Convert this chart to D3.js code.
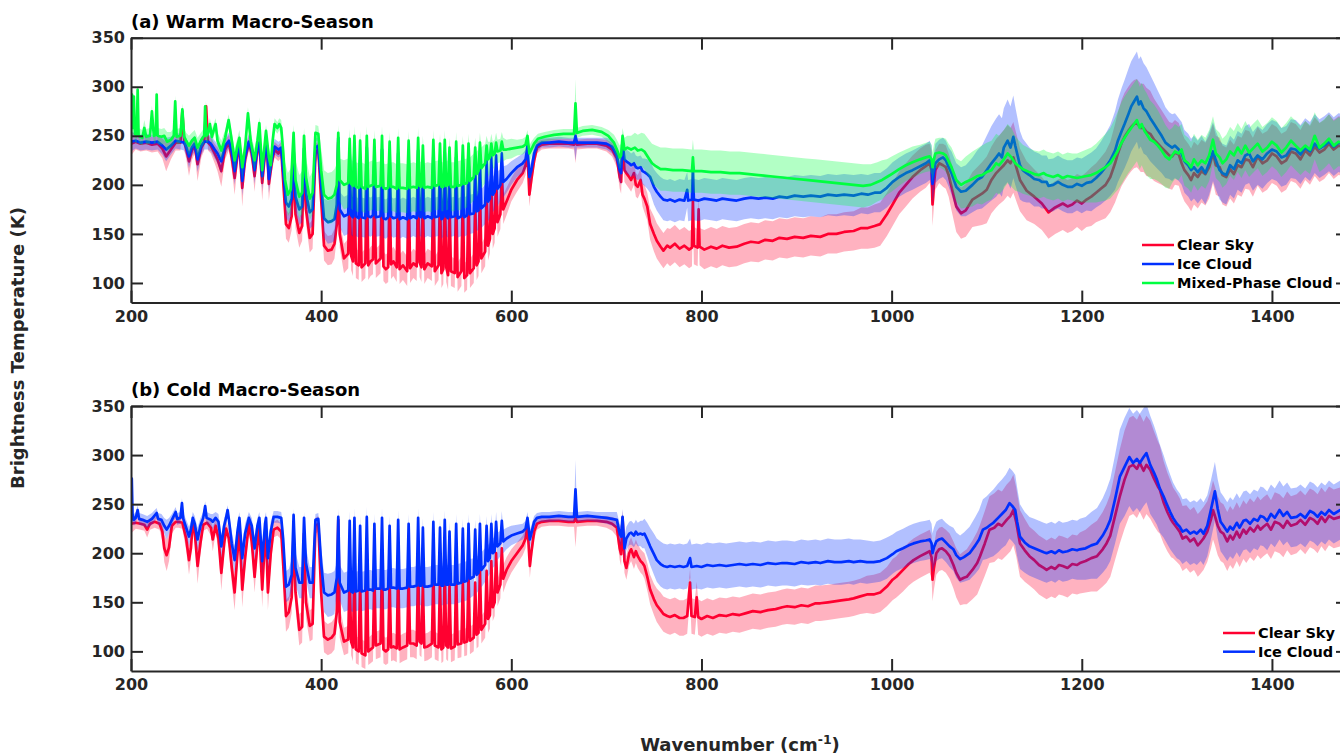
<!DOCTYPE html>
<html>
<head>
<meta charset="utf-8">
<script src="https://cdn.jsdelivr.net/npm/d3@7"></script>
<style>
  body { margin: 0; background: #ffffff; }
  svg { display: block; }
  text { font-family: "DejaVu Sans", "Liberation Sans", sans-serif; font-weight: bold; }
</style>
</head>
<body>
<svg id="chart" width="1340" height="755"></svg>
<script>
// Tick values
const xTicks = [200, 400, 600, 800, 1000, 1200, 1400];
const yTicks = [100, 150, 200, 250, 300, 350];

// Each row: [wavenumber (cm^-1), mean brightness temperature (K), spread (K)]
// Warm macro-season
const clearWarm = [
[200,242,12],[205,244,8],[210,242,8],[216,243,8],[222,241,8],[228,242,8],[233,237,10],[237,229,15],[242,236,10],[247,243,8],[252,243,8],[254,275,4],[256,243,8],[258,237,10],[261,224,15],[264,235,10],[267,240,8],[270,221,17],[274,238,10],[277,243,8],[279,280,4],[281,243,8],[284,240,8],[288,232,10],[291,226,12],[295,214,16],[299,236,10],[303,243,8],[306,228,12],[309,207,17],[312,230,10],[314,240,8],[317,197,19],[320,226,10],[324,243,8],[327,232,10],[330,209,16],[333,236,8],[335,241,8],[338,202,18],[341,232,10],[343,238,8],[345,201,17],[348,222,10],[351,236,8],[355,232,8],
[358,236,8],[360,205,14],[363,160,15],[366,156,15],[369,168,14],[371,226,10],[373,170,14],[377,151,15],[380,158,15],[382,228,10],[384,175,14],[388,146,15],[391,150,15],[394,232,10],[397,236,8],[400,185,14],[403,138,15],[407,133,15],[411,134,15],[414,140,15],[416.5,160,14],[418,244,8],[419.5,150,14],
[424,125,15],[428.5,130,15],[430,200,12],[431.5,128,15],[433.5,122,15],[435,215,12],[436.5,120,15],[439.5,118,15],[441,195,12],[442.5,116,15],[446.5,120,15],[448,225,12],[449.5,118,15],[452,122,15],[454.5,124,15],[456,205,12],[457.5,120,15],[462.5,125,15],[464,220,12],[465.5,117,15],[468,114,15],[470.5,116,15],[472,200,12],[473.5,119,15],[476,122,15],[479.5,116,15],[481,215,12],[482.5,114,15],[486,118,15],[490.5,112,15],[492,205,12],[493.5,115,15],[497,120,15],[500.5,117,15],[502,210,12],[503.5,121,15],[505.5,116,15],[507,190,12],[508.5,114,15],[512,120,15],[516.5,117,15],[518,205,12],[519.5,112,15],[523.5,118,15],[525,195,12],[526.5,110,15],[528.5,114,15],[530,210,12],[531.5,116,15],[533.5,108,15],[535,185,12],[536.5,112,15],[540.5,110,15],[542,200,12],[543.5,106,15],[547.5,112,15],[549,190,12],[550.5,105,15],[553.5,108,15],[555,195,12],[556.5,110,15],[560.5,115,15],[562,185,12],[563.5,118,15],[565.5,122,15],[567,200,12],[568.5,125,15],[572.5,132,15],[574,195,12],[575.5,138,15],[577.5,145,15],[579,205,12],[580.5,150,15],[582.5,156,15],[584,210,12],[585.5,162,15],[588.5,170,15],[590,215,12],[591.5,175,15],[595,183,14],[600,195,12],[606,205,12],[612,212,10],[615,220,10],
[617,232,8],[619,190,12],[621,205,10],[624,225,8],[627,238,6],[632,241,5],[640,242,5],[650,242,5],[660,242,5],[666,241,5],[667.5,247,25],[669,241,5],[680,242,5],[690,242,5],[700,240,6],[706,236,7],[711,227,9],[714,208,12],[715.5,203,12],[717,244,8],[719,215,12],[721,212,12],[724,208,12],[726,205,12],[729,212,12],[731,200,12],[733,198,12],[736,205,12],[738,190,12],[740,186,14],[743,178,14],[746,160,16],[750,150,18],[753,143,18],[757,137,18],[760,133,18],[764,138,18],[767,136,19],[772,140,19],[777,135,19],[782,138,19],[787,134,19],[790,136,19],[791,185,15],[792,138,19],[796,136,19],[797,175,15],[798,137,19],[803,134,20],[810,137,20],[816,135,20],[822,138,20],[829,136,20],[837,137,20],[845,140,20],[852,142,20],[860,141,20],[867,144,20],[875,143,20],[882,146,20],[890,145,20],[898,147,20],[907,146,20],[915,148,20],[925,147,20],[933,150,20],[942,150,20],[950,152,20],[960,153,20],[968,156,21],[975,156,21],[982,158,22],[988,160,22],[995,170,22],[1001,180,22],[1008,192,22],[1015,200,22],[1022,208,22],[1030,215,22],[1036,219,22],[1040,222,20],[1042,215,20],[1043,180,22],[1044.5,200,22],[1046,215,20],[1050,222,20],[1054,220,22],[1057,218,22],[1060,210,22],[1063,198,24],[1068,178,26],[1073,171,26],[1078,174,27],[1085,185,28],[1090,188,30],[1095,191,32],[1100,195,34],[1105,205,34],[1110,212,35],[1113,215,35],[1118,220,36],[1122,225,36],[1125,222,36],[1128,228,36],[1132,215,34],[1135,205,32],[1142,194,30],[1150,188,28],[1158,181,27],[1165,172,27],[1172,177,27],[1180,181,27],[1185,178,27],[1190,180,27],[1195,184,27],[1200,181,28],[1205,185,28],[1210,188,30],[1215,192,30],[1220,196,32],[1225,200,34],[1230,208,36],[1235,222,40],[1238,232,42],[1242,243,44],[1245,249,45],[1249,255,45],[1252,259,45],[1255,262,45],[1258,263,45],[1262,258,45],[1265,258,45],[1268,254,45],[1272,252,44],[1276,246,42],[1280,242,40],[1284,238,38],[1288,234,36],[1292,230,34],[1295,229,34],[1298,233,33],[1302,231,32],[1305,222,32],[1308,215,32],[1312,210,32],[1315,205,32],[1318,212,32],[1322,208,32],[1326,214,32],[1330,211,32],[1334,218,32],[1338,232,30],[1341,220,30],[1345,218,30],[1348,210,30],[1352,208,30],[1356,216,30],[1360,211,30],[1364,220,30],[1368,218,30],[1372,226,30],[1376,225,30],[1380,218,30],[1385,229,30],[1390,222,30],[1395,225,30],[1400,232,30],[1405,229,30],[1410,222,30],[1415,225,30],[1420,234,30],[1425,232,30],[1430,226,30],[1435,235,30],[1440,230,30],[1445,239,30],[1450,233,30],[1455,236,30],[1460,242,30],[1465,236,30],[1470,240,30],[1480,238,30]
];

const iceWarm = [
[200,244,10],[205,245,8],[210,243,8],[216,244,8],[222,243,8],[228,244,8],[233,240,9],[237,236,12],[242,240,9],[247,245,8],[252,244,8],[256,243,8],[258,239,9],[261,229,12],[264,238,9],[267,242,8],[270,226,13],[274,240,9],[277,244,8],[281,244,8],[284,242,8],[288,236,9],[291,232,10],[295,224,13],[299,240,9],[303,245,8],[306,234,10],[309,214,14],[312,234,9],[314,242,8],[317,204,15],[320,230,10],[324,244,8],[327,236,9],[330,215,14],[333,239,8],[335,243,8],[338,209,15],[341,236,9],[343,240,8],[345,206,14],[348,226,10],[351,239,8],[355,236,8],
[358,238,8],[360,215,14],[363,182,16],[366,178,16],[369,186,15],[371,236,10],[373,188,15],[377,175,16],[380,178,16],[382,237,10],[384,192,15],[388,172,17],[391,175,17],[394,238,10],[397,240,8],[400,200,15],[403,166,20],[407,162,22],[411,163,22],[414,165,22],[416.5,180,16],[418,248,8],[419.5,175,18],
[424,168,20],[428.5,170,20],[430,232,12],[431.5,169,20],[433.5,167,20],[435,235,12],[436.5,168,20],[439.5,166,20],[441,225,12],[442.5,167,20],[446.5,166,20],[448,238,12],[449.5,168,20],[452,167,20],[454.5,169,20],[456,228,12],[457.5,167,20],[462.5,168,20],[464,236,12],[465.5,166,20],[468,165,20],[470.5,167,20],[472,225,12],[473.5,168,20],[476,166,20],[479.5,167,20],[481,232,12],[482.5,165,20],[486,167,20],[490.5,165,20],[492,228,12],[493.5,166,20],[497,168,20],[500.5,166,20],[502,235,12],[503.5,168,20],[505.5,167,20],[507,220,12],[508.5,166,20],[512,168,20],[516.5,166,20],[518,230,12],[519.5,167,20],[523.5,168,20],[525,222,12],[526.5,165,20],[528.5,167,20],[530,233,12],[531.5,168,20],[533.5,166,20],[535,218,12],[536.5,167,20],[540.5,168,20],[542,228,12],[543.5,166,20],[547.5,168,20],[549,222,12],[550.5,167,20],[553.5,169,20],[555,226,12],[556.5,170,20],[560.5,171,20],[562,220,12],[563.5,173,20],[565.5,174,20],[567,228,12],[568.5,176,20],[572.5,180,20],[574,225,12],[575.5,183,20],[577.5,186,20],[579,228,12],[580.5,190,18],[582.5,193,18],[584,230,12],[585.5,196,18],[588.5,200,16],[590,232,12],[591.5,203,16],[595,206,14],[600,212,12],[606,218,10],[612,222,10],[615,226,10],
[617,240,8],[619,208,10],[621,215,10],[624,232,8],[627,240,6],[632,243,5],[640,243,5],[650,244,5],[660,243,5],[666,243,5],[667.5,250,25],[669,243,5],[680,243,5],[690,243,5],[700,242,6],[706,239,7],[711,230,9],[714,215,12],[715.5,212,12],[717,244,8],[719,226,12],[721,224,12],[724,222,12],[726,220,12],[729,222,12],[731,218,12],[733,217,12],[736,218,12],[738,214,13],[740,213,14],[743,211,15],[746,208,16],[750,198,18],[753,193,19],[757,188,20],[760,185,21],[764,184,21],[767,185,21],[772,183,21],[777,185,21],[782,184,21],[785,195,18],[786,184,21],[790,185,21],[791,218,15],[792,185,21],[797,184,21],[803,186,21],[810,185,21],[816,184,21],[822,186,21],[829,185,21],[837,184,21],[845,186,21],[852,187,21],[860,186,21],[867,187,21],[875,186,21],[882,188,21],[890,187,21],[898,189,21],[907,188,21],[915,189,21],[925,188,21],[933,190,21],[942,189,21],[950,190,21],[960,189,21],[968,191,20],[975,190,20],[982,192,20],[988,192,20],[995,197,20],[1001,203,20],[1008,208,20],[1015,212,20],[1022,215,20],[1030,219,20],[1036,222,20],[1040,225,20],[1042,220,20],[1043,201,20],[1044.5,212,20],[1046,222,20],[1050,226,20],[1054,228,20],[1057,225,20],[1060,218,20],[1063,212,22],[1068,198,24],[1073,193,25],[1078,194,26],[1085,200,28],[1090,205,30],[1095,208,32],[1100,215,35],[1105,222,38],[1110,228,40],[1113,232,40],[1116,228,40],[1118,238,40],[1122,245,42],[1125,238,42],[1128,249,42],[1130,240,40],[1132,232,38],[1135,220,35],[1138,215,32],[1142,212,30],[1145,210,28],[1150,206,28],[1155,205,27],[1158,203,27],[1163,203,27],[1165,199,27],[1170,200,27],[1175,203,27],[1180,200,27],[1185,198,27],[1190,198,27],[1195,201,27],[1200,199,28],[1205,202,28],[1210,203,30],[1215,207,30],[1220,212,32],[1225,218,34],[1230,225,36],[1235,235,40],[1238,245,42],[1242,255,44],[1245,262,45],[1249,272,46],[1252,280,46],[1255,285,46],[1258,290,46],[1260,282,46],[1262,285,46],[1265,278,46],[1268,275,45],[1272,268,44],[1276,262,42],[1280,256,40],[1284,250,38],[1288,243,36],[1292,240,34],[1295,238,34],[1298,240,33],[1302,236,32],[1305,232,32],[1308,224,32],[1312,220,32],[1315,215,32],[1318,218,32],[1322,213,32],[1326,218,32],[1330,212,32],[1334,222,32],[1338,234,30],[1341,225,30],[1345,215,30],[1348,212,30],[1352,210,30],[1356,220,30],[1360,216,30],[1364,225,30],[1368,222,30],[1372,230,30],[1376,232,30],[1380,224,30],[1385,230,30],[1390,226,30],[1395,232,30],[1400,236,30],[1405,234,30],[1410,228,30],[1415,230,30],[1420,237,30],[1425,236,30],[1430,231,30],[1435,238,30],[1440,234,30],[1445,242,30],[1450,237,30],[1455,240,30],[1460,244,30],[1465,239,30],[1470,243,30],[1480,241,30]
];

const mixedWarm = [
[200,250,10],[201,292,8],[202,258,8],[203,290,8],[204,252,8],[206,250,8],[207,297,6],[208,250,8],[212,248,8],[214,258,8],[216,249,8],[220,250,8],[222,275,6],[224,250,8],[226,251,8],[227,292,6],[228,250,8],[232,249,8],[235,250,8],[238,244,10],[242,246,8],[245,250,8],[246.5,285,6],[248,249,8],[252,250,8],[254,277,6],[256,249,8],[258,245,8],[261,240,10],[264,245,8],[267,248,8],[270,238,10],[274,246,8],[277,250,8],[278,280,6],[279,250,8],[281,252,8],[283,262,6],[285,249,8],[289,262,6],[291,245,8],[295,235,10],[299,248,8],[302.7,266,6],[306,245,8],[309,225,12],[312,240,8],[314,248,8],[317,218,12],[320,238,8],[323,273,6],[326,244,8],[330,225,12],[333,245,8],[335,263,6],[338,215,12],[341,245,8],[342,255,6],[345,228,10],[347,220,10],[349,245,8],[351,262,6],[354,258,6],[356,262,6],
[358,258,8],[360,235,12],[362,205,18],[365,190,22],[368,195,22],[371,253,8],[373,205,20],[377,188,22],[380,192,22],[382,250,8],[384,208,20],[388,186,22],[391,192,22],[394,253,8],[397,252,8],[400,215,22],[403,190,25],[407,186,26],[411,187,26],[414,190,26],[416.5,200,22],[418,253,8],[419.5,205,22],
[424,200,25],[428.5,202,25],[430,247,10],[431.5,201,25],[433.5,199,25],[435,250,10],[436.5,198,25],[439.5,197,25],[441,245,10],[442.5,198,25],[446.5,196,25],[448,250,10],[449.5,198,25],[452,199,25],[454.5,200,25],[456,246,10],[457.5,198,25],[462.5,199,25],[464,250,10],[465.5,197,25],[468,196,25],[470.5,197,25],[472,244,10],[473.5,198,25],[476,198,25],[479.5,196,25],[481,248,10],[482.5,197,25],[486,197,25],[490.5,196,25],[492,245,10],[493.5,197,25],[497,198,25],[500.5,197,25],[502,248,10],[503.5,199,25],[505.5,198,25],[507,240,10],[508.5,197,25],[512,198,25],[516.5,197,25],[518,246,10],[519.5,199,25],[523.5,200,25],[525,242,10],[526.5,198,25],[528.5,198,25],[530,246,10],[531.5,199,25],[533.5,200,25],[535,238,10],[536.5,198,25],[540.5,198,25],[542,244,10],[543.5,199,25],[547.5,200,25],[549,240,10],[550.5,201,25],[553.5,202,25],[555,242,10],[556.5,204,24],[560.5,208,24],[562,238,10],[563.5,211,23],[565.5,214,22],[567,243,10],[568.5,217,21],[572.5,222,20],[574,240,10],[575.5,226,18],[577.5,228,16],[579,242,10],[580.5,230,14],[582.5,232,14],[584,243,10],[585.5,234,12],[588.5,235,12],[590,244,10],[591.5,236,12],[595,236,10],[600,237,10],[606,238,8],[612,239,8],[615,241,8],
[617,250,6],[619,232,8],[621,236,8],[624,242,6],[628,247,5],[635,249,5],[645,251,5],[655,252,5],[662,252,5],[666,252,5],[667.5,283,25],[669,253,5],[675,255,5],[685,256,5],[695,254,5],[702,250,6],[708,243,8],[711,236,10],[714,228,12],[715.5,230,12],[717,250,8],[719,236,12],[722,238,12],[726,236,14],[730,238,15],[733,235,16],[737,236,17],[740,234,18],[744,228,19],[748,222,20],[752,219,21],[757,216,22],[762,216,22],[770,215,22],[780,215,22],[790,214,22],[791,228,18],[792,214,22],[800,214,22],[810,213,22],[820,213,22],[830,212,22],[840,212,22],[850,211,22],[860,210,22],[870,209,22],[880,208,22],[890,207,22],[900,206,22],[910,205,22],[920,204,22],[930,203,22],[940,202,22],[950,201,22],[960,200,22],[970,199,22],[978,200,21],[985,203,20],[990,205,20],[995,208,18],[1000,211,18],[1008,216,17],[1015,220,16],[1022,223,16],[1030,226,15],[1036,228,15],[1040,229,15],[1042,226,15],[1043,218,15],[1044.5,226,15],[1046,232,15],[1050,233,15],[1054,232,16],[1057,230,17],[1060,224,18],[1063,218,20],[1068,205,22],[1073,200,24],[1078,203,26],[1085,206,28],[1090,209,28],[1095,210,30],[1100,213,30],[1105,215,30],[1110,222,30],[1113,220,30],[1118,226,30],[1122,232,30],[1126,228,30],[1130,222,28],[1134,219,26],[1138,216,25],[1145,213,24],[1150,211,24],[1155,210,24],[1160,212,24],[1163,210,24],[1170,208,24],[1175,210,24],[1180,207,24],[1185,209,24],[1190,208,24],[1195,207,25],[1200,208,26],[1205,209,27],[1210,210,28],[1215,212,30],[1220,215,32],[1225,218,34],[1230,222,36],[1235,230,38],[1238,235,40],[1242,243,42],[1245,248,42],[1249,254,42],[1252,258,42],[1255,262,42],[1258,266,42],[1261,258,42],[1263,262,42],[1266,255,42],[1268,252,42],[1272,246,40],[1276,244,38],[1280,240,36],[1284,235,34],[1288,229,32],[1292,226,30],[1295,230,28],[1298,234,28],[1302,232,27],[1305,236,26],[1308,225,26],[1312,222,26],[1315,218,26],[1318,226,26],[1322,220,26],[1326,225,26],[1330,222,26],[1334,230,26],[1338,246,24],[1341,232,25],[1345,228,25],[1348,222,25],[1352,226,25],[1356,234,25],[1360,230,25],[1364,238,25],[1368,232,25],[1372,240,25],[1376,233,25],[1380,237,25],[1385,242,25],[1390,234,25],[1395,238,25],[1400,244,25],[1405,240,25],[1410,233,25],[1415,238,25],[1420,245,25],[1425,240,25],[1430,235,25],[1435,240,25],[1440,236,25],[1445,250,24],[1450,238,25],[1455,242,25],[1460,247,25],[1465,240,25],[1470,244,25],[1480,242,25]
];

// Cold macro-season
const clearCold = [
[200,230,10],[205,231,6],[210,230,6],[214,229,6],[217,224,8],[220,230,6],[225,232,6],[230,230,6],[233,222,10],[235,205,14],[237.5,198,16],[240,206,14],[243,228,8],[247,232,6],[250,232,6],[254,231,6],[258,215,12],[261,193,15],[263,205,12],[265,231,6],[267,222,10],[270,187,18],[273,210,12],[276,229,6],[280,231,6],[284,226,8],[286,214,12],[289,228,8],[292,215,10],[295,180,18],[298,210,12],[300,225,8],[303,215,10],[306,185,16],[309,160,18],[312,200,12],[314,226,8],[317,163,18],[320,195,12],[324,230,8],[327,212,12],[330,176,16],[333,210,10],[335,226,8],[338,163,18],[341,215,10],[342,222,8],[344,160,18],[347,200,12],[350,224,8],[354,226,8],
[358,222,8],[360,190,14],[363,136,16],[366,140,16],[369,155,16],[371,222,8],[373,160,16],[377,122,16],[380,125,16],[382,220,8],[384,150,16],[388,126,16],[391,128,16],[394,228,8],[397,230,8],[400,160,16],[403,115,16],[407,112,16],[411,114,16],[414,118,16],[416.5,140,14],[418,234,8],[419.5,130,16],
[424,110,14],[428.5,112,14],[430,185,12],[431.5,110,14],[433.5,104,14],[435,195,12],[436.5,102,14],[439.5,100,14],[441,175,12],[442.5,98,14],[446.5,96,14],[448,200,12],[449.5,100,14],[452,102,14],[454.5,104,14],[456,180,12],[457.5,106,14],[462.5,108,14],[464,195,12],[465.5,102,14],[468,100,14],[470.5,102,14],[472,175,12],[473.5,104,14],[476,105,14],[479.5,103,14],[481,190,12],[482.5,102,14],[486,104,14],[490.5,106,14],[492,180,12],[493.5,108,14],[497,108,14],[500.5,106,14],[502,192,12],[503.5,110,14],[505.5,108,14],[507,170,12],[508.5,104,14],[512,105,14],[516.5,108,14],[518,185,12],[519.5,106,14],[523.5,104,14],[525,175,12],[526.5,102,14],[528.5,104,14],[530,190,12],[531.5,106,14],[533.5,104,14],[535,168,12],[536.5,103,14],[540.5,105,14],[542,182,12],[543.5,107,14],[547.5,108,14],[549,172,12],[550.5,109,14],[553.5,110,14],[555,180,12],[556.5,111,14],[560.5,114,14],[562,170,12],[563.5,117,14],[565.5,119,14],[567,185,12],[568.5,122,14],[572.5,128,14],[574,182,12],[575.5,133,14],[577.5,137,14],[579,192,12],[580.5,145,14],[582.5,150,14],[584,200,12],[585.5,160,14],[588.5,168,14],[590,205,12],[591.5,174,14],[595,183,13],[600,192,12],[606,200,11],[612,208,10],[615,215,10],
[617,228,8],[619.5,187,12],[621,200,10],[624,222,8],[627,230,6],[632,232,5],[640,233,5],[650,233,5],[660,232,5],[666,232,5],[667.5,236,30],[669,232,5],[680,233,5],[690,233,5],[700,232,6],[706,230,7],[711,226,9],[714,205,12],[715.5,199,12],[717,236,8],[719,192,12],[721,185,12],[724,200,12],[726,204,12],[729,196,12],[731,202,12],[733,197,12],[736,192,12],[738,190,12],[740,187,13],[743,176,14],[746,163,15],[750,153,16],[753,147,17],[757,142,18],[760,138,18],[764,136,18],[767,135,18],[772,137,18],[777,134,18],[781,134,18],[785,136,18],[788,170,14],[789.5,136,18],[793,135,18],[795,155,16],[796.5,135,18],[800,133,18],[806,136,18],[812,134,18],[819,137,18],[826,136,18],[833,138,18],[840,137,18],[847,139,18],[854,141,18],[862,140,18],[870,142,18],[878,143,18],[885,145,18],[890,146,18],[898,145,18],[905,147,18],[912,146,18],[920,149,18],[925,149,18],[933,150,18],[940,151,18],[947,152,18],[955,153,18],[960,154,18],[967,156,18],[974,158,19],[981,158,20],[988,160,20],[995,166,20],[1001,173,21],[1005,176,21],[1012,183,22],[1018,189,22],[1023,193,22],[1030,197,22],[1036,200,22],[1040,202,22],[1042,196,22],[1043,173,22],[1044.5,185,22],[1047,200,22],[1050,204,22],[1053,205,22],[1057,202,22],[1061,197,23],[1065,188,24],[1068,180,25],[1072,173,26],[1076,175,27],[1079,176,28],[1085,183,30],[1090,190,32],[1093,197,32],[1098,210,33],[1103,224,34],[1108,226,35],[1112,230,35],[1116,228,35],[1121,234,36],[1125,238,36],[1128,244,36],[1131,232,35],[1135,210,34],[1140,203,32],[1145,197,30],[1150,193,30],[1155,188,30],[1160,185,30],[1163,183,30],[1168,186,30],[1172,184,30],[1176,188,30],[1180,187,30],[1185,185,30],[1190,189,30],[1195,188,30],[1198,190,31],[1204,192,32],[1210,195,34],[1216,197,36],[1222,204,38],[1226,210,40],[1230,218,42],[1235,238,45],[1240,258,48],[1245,275,50],[1250,288,50],[1254,290,50],[1258,286,50],[1261,292,50],[1265,284,50],[1268,290,50],[1272,285,50],[1276,276,48],[1280,268,46],[1282,265,45],[1286,252,42],[1290,242,40],[1294,234,38],[1296,231,36],[1300,226,35],[1303,222,34],[1306,215,33],[1310,217,32],[1314,212,32],[1318,215,32],[1322,208,32],[1324,210,32],[1328,215,32],[1332,222,31],[1336,235,30],[1338,244,30],[1340,238,30],[1343,228,30],[1346,222,30],[1349,220,30],[1353,212,30],[1356,218,30],[1359,214,30],[1363,222,30],[1366,216,30],[1370,224,30],[1373,220,30],[1377,226,30],[1381,222,30],[1385,228,30],[1388,224,30],[1391,227,30],[1395,230,30],[1399,224,30],[1403,232,30],[1408,230,30],[1412,226,30],[1416,233,30],[1420,228,30],[1426,230,30],[1430,234,30],[1435,229,30],[1440,236,30],[1444,234,30],[1448,230,30],[1452,237,30],[1456,232,30],[1460,238,30],[1465,235,30],[1472,237,30],[1480,236,30]
];

const iceCold = [
[200,232,10],[200.8,276,8],[201.6,240,8],[203,234,6],[205,236,6],[207,244,5],[208.5,235,6],[212,234,6],[217,232,6],[222,235,6],[227,241,5],[228.5,235,6],[232,234,6],[235,228,8],[237.5,224,10],[240,228,8],[243,234,6],[247,242,5],[248.5,235,6],[252,236,6],[253.6,251,5],[255,235,6],[258,226,8],[261,217,10],[263,224,8],[265,236,6],[267,230,8],[270,214,12],[273,228,8],[276,236,6],[278,248,5],[279.5,236,6],[284,234,6],[286,232,8],[289,236,6],[292,232,8],[295,207,12],[298,228,8],[300,236,6],[301.6,244,5],[303,234,6],[306,210,12],[309,193,14],[312,222,10],[314,236,6],[317,195,14],[320,220,10],[324,236,6],[327,228,8],[330,205,12],[333,228,8],[335,236,6],[338,192,14],[341,230,8],[342,236,6],[344,195,14],[347,222,10],[350,237,6],[354,237,6],
[358,236,6],[360,215,12],[363,166,16],[366,168,16],[369,178,16],[371,239,6],[373,185,16],[377,170,16],[380,170,16],[382,236,6],[384,190,16],[388,170,16],[391,170,16],[394,234,6],[397,235,6],[400,190,16],[403,160,20],[407,157,22],[411,158,22],[414,160,22],[416.5,175,16],[418,237,8],[419.5,170,18],
[424,160,20],[428.5,162,20],[430,233,10],[431.5,161,20],[433.5,160,20],[435,236,10],[436.5,161,20],[439.5,162,20],[441,228,10],[442.5,161,20],[446.5,162,20],[448,237,10],[449.5,163,20],[452,163,20],[454.5,162,20],[456,230,10],[457.5,164,20],[462.5,164,20],[464,236,10],[465.5,163,20],[468,163,20],[470.5,164,20],[472,228,10],[473.5,165,20],[476,165,20],[479.5,164,20],[481,234,10],[482.5,164,20],[486,164,20],[490.5,165,20],[492,230,10],[493.5,166,20],[497,166,20],[500.5,167,20],[502,236,10],[503.5,167,20],[505.5,167,20],[507,226,10],[508.5,166,20],[512,166,20],[516.5,167,20],[518,232,10],[519.5,168,20],[523.5,168,20],[525,226,10],[526.5,167,20],[528.5,167,20],[530,234,10],[531.5,168,20],[533.5,168,20],[535,222,10],[536.5,168,20],[540.5,168,20],[542,230,10],[543.5,169,20],[547.5,170,20],[549,225,10],[550.5,171,20],[553.5,172,20],[555,230,10],[556.5,174,20],[560.5,176,19],[562,224,10],[563.5,178,19],[565.5,180,18],[567,230,10],[568.5,183,18],[572.5,188,17],[574,228,10],[575.5,192,16],[577.5,195,16],[579,230,10],[580.5,200,15],[582.5,202,15],[584,232,10],[585.5,207,14],[588.5,210,13],[590,233,10],[591.5,212,12],[595,215,11],[600,218,10],[606,220,9],[612,222,8],[615,225,8],
[617,236,6],[619.5,214,10],[621,220,8],[624,232,6],[627,236,5],[632,237,5],[640,237,5],[650,238,5],[660,237,5],[666,237,5],[667.5,265,30],[669,237,5],[680,238,5],[690,237,5],[700,236,6],[706,235,7],[711,234,8],[714,220,10],[715.5,217,10],[717,237,8],[719,205,12],[721,215,12],[724,220,12],[726,221,12],[729,218,12],[731,222,12],[733,219,12],[736,220,13],[738,219,14],[740,220,15],[743,214,17],[746,207,19],[750,199,21],[753,193,22],[757,189,23],[760,187,23],[764,186,23],[767,187,23],[772,186,23],[777,187,23],[781,186,23],[785,187,23],[788,195,20],[789.5,186,23],[795,187,23],[800,186,23],[806,188,23],[812,187,23],[819,188,23],[826,187,23],[833,188,23],[840,189,23],[847,188,23],[854,189,23],[862,188,23],[870,190,23],[878,189,23],[885,190,23],[890,190,23],[898,189,23],[905,191,23],[912,190,23],[920,191,23],[925,190,23],[933,192,23],[940,191,23],[947,191,23],[955,192,23],[960,191,23],[967,192,22],[974,191,22],[981,191,21],[988,192,21],[995,195,21],[1001,199,20],[1005,202,20],[1012,205,20],[1018,208,20],[1023,210,20],[1030,212,20],[1036,213,20],[1040,214,20],[1042,210,20],[1043,200,20],[1044.5,206,20],[1047,212,20],[1050,214,20],[1053,215,20],[1057,211,20],[1061,207,21],[1065,204,22],[1068,198,23],[1072,194,24],[1076,196,25],[1082,200,27],[1088,208,29],[1092,214,30],[1096,224,31],[1100,226,32],[1104,229,33],[1107,231,34],[1112,236,35],[1116,240,35],[1120,244,36],[1124,251,36],[1127,248,36],[1130,244,36],[1132,232,35],[1135,217,33],[1140,211,31],[1145,207,30],[1150,205,30],[1155,203,30],[1160,201,30],[1163,200,30],[1168,202,30],[1172,200,30],[1176,203,30],[1180,201,30],[1185,202,30],[1190,204,30],[1195,203,30],[1198,204,31],[1204,205,32],[1210,208,34],[1216,210,36],[1222,218,38],[1226,225,40],[1230,234,42],[1235,255,45],[1240,278,48],[1245,288,50],[1250,298,50],[1254,292,50],[1258,296,50],[1261,292,50],[1265,298,50],[1268,302,50],[1272,290,50],[1276,282,48],[1279,275,46],[1282,266,45],[1286,258,42],[1289,251,40],[1293,242,38],[1296,236,36],[1300,230,35],[1303,227,34],[1306,222,33],[1310,224,32],[1314,220,32],[1318,222,32],[1321,220,32],[1325,224,32],[1328,220,32],[1332,228,31],[1336,245,30],[1340,263,30],[1343,245,30],[1346,232,30],[1349,228,30],[1353,222,30],[1356,227,30],[1359,224,30],[1363,231,30],[1366,226,30],[1370,233,30],[1373,234,30],[1377,230,30],[1381,235,30],[1385,233,30],[1388,238,30],[1391,237,30],[1395,233,30],[1399,240,30],[1403,236,30],[1408,244,30],[1412,238,30],[1416,242,30],[1420,236,30],[1426,237,30],[1430,240,30],[1435,236,30],[1440,243,30],[1444,241,30],[1448,237,30],[1452,242,30],[1456,239,30],[1460,244,30],[1465,240,30],[1472,244,30],[1480,242,30]
];

// Series colours
const RED = "#ff0030", BLUE = "#0030ff", GREEN = "#00ff40";
const INK = "#262626";

const svg = d3.select("#chart");

// Shared wavenumber scale; the plot box runs slightly past the right edge of the page
const x = d3.scaleLinear().domain([200, 1480]).range([131, 1348]);

const panels = [
  {
    id: "warm", title: "(a) Warm Macro-Season", top: 37.7, bottom: 302.6,
    series: [
      { name: "Clear Sky", color: RED, data: clearWarm },
      { name: "Ice Cloud", color: BLUE, data: iceWarm },
      { name: "Mixed-Phase Cloud", color: GREEN, data: mixedWarm }
    ],
    legend: { x: 1142, y: 245, dy: 19 }
  },
  {
    id: "cold", title: "(b) Cold Macro-Season", top: 406, bottom: 671,
    series: [
      { name: "Clear Sky", color: RED, data: clearCold },
      { name: "Ice Cloud", color: BLUE, data: iceCold }
    ],
    legend: { x: 1223, y: 633, dy: 18.7 }
  }
];

panels.forEach(p => {
  const y = d3.scaleLinear().domain([80, 350]).range([p.bottom, p.top]);
  const g = svg.append("g");

  g.append("clipPath").attr("id", "clip-" + p.id)
    .append("rect")
    .attr("x", x.range()[0]).attr("y", p.top)
    .attr("width", x.range()[1] - x.range()[0]).attr("height", p.bottom - p.top);

  const plot = g.append("g").attr("clip-path", `url(#clip-${p.id})`);

  const band = d3.area()
    .x(d => x(d[0]))
    .y0(d => y(d[1] - d[2]))
    .y1(d => y(d[1] + d[2]));
  const line = d3.line()
    .x(d => x(d[0]))
    .y(d => y(d[1]));

  // Each series: shaded spread, then its mean line
  p.series.forEach(s => {
    plot.append("path").datum(s.data)
      .attr("d", band)
      .attr("fill", s.color)
      .attr("fill-opacity", 0.3)
      .attr("stroke", "none");
    plot.append("path").datum(s.data)
      .attr("d", line)
      .attr("fill", "none")
      .attr("stroke", s.color)
      .attr("stroke-width", 2.7)
      .attr("stroke-linejoin", "round");
  });

  // Axes with inward ticks on all four sides
  const tick = 12;
  const fmt = d3.format("d");
  const axB = d3.axisBottom(x).tickValues(xTicks).tickFormat(fmt).tickSizeInner(-tick).tickSizeOuter(0).tickPadding(8);
  const axT = d3.axisTop(x).tickValues(xTicks).tickSizeInner(-tick).tickSizeOuter(0).tickFormat("");
  const axL = d3.axisLeft(y).tickValues(yTicks).tickFormat(fmt).tickSizeInner(-tick).tickSizeOuter(0).tickPadding(6);
  const axR = d3.axisRight(y).tickValues(yTicks).tickSizeInner(-tick).tickSizeOuter(0).tickFormat("");

  const styleAxis = sel => {
    sel.select(".domain").attr("stroke", INK).attr("stroke-width", 2);
    sel.selectAll(".tick line").attr("stroke", INK).attr("stroke-width", 2);
    sel.selectAll(".tick text").attr("fill", INK).attr("font-size", 16)
      .attr("font-family", "DejaVu Sans, sans-serif").attr("font-weight", "bold");
  };

  g.append("g").attr("transform", `translate(0,${p.bottom})`).call(axB).call(styleAxis);
  g.append("g").attr("transform", `translate(0,${p.top})`).call(axT).call(styleAxis);
  g.append("g").attr("transform", `translate(${x.range()[0]},0)`).call(axL).call(styleAxis);
  g.append("g").attr("transform", `translate(${x.range()[1]},0)`).call(axR).call(styleAxis);

  // Panel title
  g.append("text")
    .attr("x", 131).attr("y", p.top - 10)
    .attr("font-size", 18).attr("fill", "#000")
    .text(p.title);

  // Legend
  p.series.forEach((s, i) => {
    const ly = p.legend.y + i * p.legend.dy;
    g.append("line")
      .attr("x1", p.legend.x).attr("x2", p.legend.x + 32)
      .attr("y1", ly).attr("y2", ly)
      .attr("stroke", s.color).attr("stroke-width", 2.5);
    g.append("text")
      .attr("x", p.legend.x + 35).attr("y", ly + 5)
      .attr("font-size", 14.5).attr("fill", "#000")
      .text(s.name);
  });
});

// Shared axis titles
svg.append("text")
  .attr("transform", "translate(24,348) rotate(-90)")
  .attr("text-anchor", "middle")
  .attr("font-size", 18).attr("fill", INK)
  .text("Brightness Temperature (K)");

const xl = svg.append("text")
  .attr("x", 740).attr("y", 751)
  .attr("text-anchor", "middle")
  .attr("font-size", 18).attr("fill", INK);
xl.append("tspan").text("Wavenumber (cm");
xl.append("tspan").attr("font-size", 12.5).attr("dy", -7).text("-1");
xl.append("tspan").attr("dy", 7).text(")");
</script>
</body>
</html>
